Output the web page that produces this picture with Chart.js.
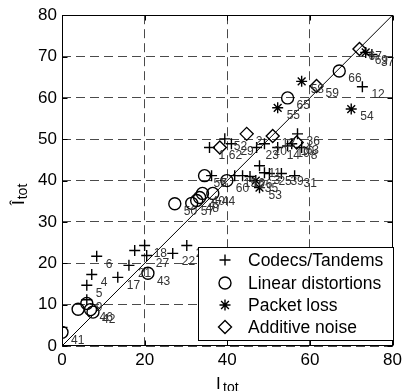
<!DOCTYPE html>
<html><head><meta charset="utf-8">
<script src="https://cdn.jsdelivr.net/npm/chart.js@4/dist/chart.umd.min.js"></script>
<style>html,body{margin:0;padding:0;background:#fff;}</style>
</head><body>
<canvas id="c" width="406" height="391"></canvas>
<script>
// ---- data ----
const seriesNames = ["Codecs/Tandems", "Linear distortions", "Packet loss", "Additive noise"];
const xTicks = [0, 20, 40, 60, 80];
const yTicks = [0, 10, 20, 30, 40, 50, 60, 70, 80];

const codecX = [0, 6.0, 6.0, 7.2, 8.4, 13.5, 16.2, 17.6, 20.0, 20.5, 26.8, 30.2,
  35.7, 39.4, 41.0, 47.1, 49.0, 52.2, 54.6, 55.6, 57.0, 58.0,
  36.2, 41.8, 43.7, 45.5, 47.8, 49.0, 50.2, 53.1, 56.3,
  72.7, 75.0];
const codecY = [4.5, 11.2, 14.7, 17.3, 21.7, 16.6, 19.5, 23.1, 24.3, 21.9, 22.4, 24.3,
  48.0, 50.1, 48.9, 48.0, 48.9, 48.0, 48.4, 48.9, 51.3, 48.0,
  41.2, 41.2, 41.2, 41.0, 43.6, 41.9, 41.7, 41.7, 41.2,
  62.7, 70.5];
const codecLabels = ["", "9", "5", "4", "6", "17", "21", "", "18", "27", "22", "24",
  "1", "52", "29", "23", "20", "14", "19", "10", "36", "8",
  "7", "15", "16", "26", "11", "3", "25", "39", "31",
  "12", "37"];

const linearX = [0, 3.9, 6.0, 6.9, 7.5, 20.8, 27.3, 31.4, 32.6, 33.3, 34.0, 36.5, 34.5, 39.9, 54.6, 67.1];
const linearY = [3.3, 8.9, 10.3, 8.8, 8.2, 17.6, 34.4, 34.5, 35.2, 35.9, 36.9, 36.9, 41.2, 40.0, 60.0, 66.5];
const linearLabels = ["41", "", "", "46", "42", "43", "50", "57", "48", "47", "40", "44", "56", "60", "65", "66"];

const packetX = [46.9, 47.8, 52.2, 58.0, 70.0, 73.5];
const packetY = [40.0, 38.3, 57.6, 64.0, 57.3, 71.0];
const packetLabels = ["35", "53", "55", "58", "54", "69"];

const noiseX = [38.2, 44.7, 51.0, 56.8, 61.6, 72.0];
const noiseY = [48.0, 51.3, 50.8, 49.2, 62.9, 71.8];
const noiseLabels = ["62", "2", "13", "63", "59", "67"];

const diagX = [0, 80];
const diagY = [0, 80];

// ---- build ----
const FONT = "'Liberation Sans', Arial, sans-serif";
Chart.defaults.font.family = FONT;
Chart.defaults.color = '#000';

function pts(xs, ys) { return xs.map((x, i) => ({x: x, y: ys[i]})); }

const styles = ['cross', 'circle', 'star', 'rectRot'];
const radii = [5.5, 6, 5.5, 6.5];
const allLabels = [codecLabels, linearLabels, packetLabels, noiseLabels];

const datasets = [
  {label: seriesNames[0], data: pts(codecX, codecY)},
  {label: seriesNames[1], data: pts(linearX, linearY)},
  {label: seriesNames[2], data: pts(packetX, packetY)},
  {label: seriesNames[3], data: pts(noiseX, noiseY)}
].map((d, i) => Object.assign(d, {
  pointStyle: styles[i], pointRadius: radii[i], pointHoverRadius: radii[i],
  borderColor: '#000', backgroundColor: 'rgba(0,0,0,0)', pointBorderWidth: 1.4,
  showLine: false
}));
datasets.push({label: 'diag', data: pts(diagX, diagY), showLine: true, borderColor: '#000',
  borderWidth: 1, pointRadius: 0, fill: false});

const labelPlugin = {
  id: 'pointLabels',
  afterDatasetsDraw(chart) {
    const ctx = chart.ctx;
    ctx.save();
    ctx.font = '12px ' + FONT;
    ctx.fillStyle = '#333';
    ctx.textAlign = 'left';
    ctx.textBaseline = 'middle';
    allLabels.forEach((labs, di) => {
      const meta = chart.getDatasetMeta(di);
      meta.data.forEach((el, j) => {
        if (labs[j]) ctx.fillText(labs[j], el.x + 9, el.y + 8);
      });
    });
    ctx.restore();
  }
};

const framePlugin = {
  id: 'frame',
  afterDraw(chart) {
    const ctx = chart.ctx;
    const a = chart.chartArea;
    const xs = chart.scales.x, ys = chart.scales.y;
    const L = Math.round(a.left) + 0.5, R = Math.round(a.right) - 0.5;
    const T = Math.round(a.top) + 0.5, B = Math.round(a.bottom) - 0.5;
    ctx.save();
    ctx.strokeStyle = '#000';
    ctx.lineWidth = 1;
    ctx.beginPath();
    const tl = 5;
    xTicks.forEach(v => {
      const px = Math.round(xs.getPixelForValue(v)) + 0.5;
      ctx.moveTo(px, B); ctx.lineTo(px, B - tl);
      ctx.moveTo(px, T); ctx.lineTo(px, T + tl);
    });
    yTicks.forEach(v => {
      const py = Math.round(ys.getPixelForValue(v)) + 0.5;
      ctx.moveTo(L, py); ctx.lineTo(L + tl, py);
      ctx.moveTo(R, py); ctx.lineTo(R - tl, py);
    });
    ctx.stroke();
    ctx.strokeRect(L, T, R - L, B - T);

    // legend
    const lx = 198.5, ly = 247.5, lw = 195, lh = 93;
    ctx.fillStyle = '#fff';
    ctx.fillRect(lx, ly, lw, lh);
    ctx.strokeRect(lx, ly, lw, lh);
    const rows = [260, 283, 305, 327];
    ctx.font = '17.5px ' + FONT;
    ctx.textAlign = 'left';
    ctx.textBaseline = 'middle';
    seriesNames.forEach((n, i) => {
      ctx.strokeStyle = '#000';
      ctx.fillStyle = 'rgba(0,0,0,0)';
      ctx.lineWidth = 1.4;
      Chart.helpers.drawPoint(ctx, {pointStyle: styles[i], radius: radii[i], borderWidth: 1.4, rotation: 0}, 225, rows[i]);
      ctx.fillStyle = '#000';
      ctx.fillText(n, 248, rows[i] + 1);
    });

    // axis titles
    ctx.fillStyle = '#000';
    ctx.textBaseline = 'alphabetic';
    ctx.textAlign = 'left';
    ctx.font = '17px ' + FONT;
    ctx.fillText('I', 216, 389);
    ctx.font = '14px ' + FONT;
    ctx.fillText('tot', 223, 392);

    ctx.save();
    ctx.translate(24, 205);
    ctx.rotate(-Math.PI / 2);
    ctx.font = '17px ' + FONT;
    ctx.fillText('\u00CE', 0, 0);
    const w = ctx.measureText('\u00CE').width;
    ctx.font = '14px ' + FONT;
    ctx.fillText('tot', w + 1, 3);
    ctx.restore();
    ctx.restore();
  }
};

new Chart(document.getElementById('c'), {
  type: 'scatter',
  data: {datasets: datasets},
  options: {
    responsive: false,
    animation: false,
    layout: {padding: {top: 14, right: 13, left: 0, bottom: 0}},
    plugins: {legend: {display: false}, tooltip: {enabled: false}},
    scales: {
      x: {
        type: 'linear', min: 0, max: 80,
        afterFit: s => { s.height = 45; },
        afterBuildTicks: s => { s.ticks = xTicks.map(v => ({value: v})); },
        ticks: {font: {size: 17}, padding: 4, color: '#000', maxRotation: 0},
        grid: {color: '#4a4a4a', lineWidth: 1, drawTicks: false},
        border: {display: false, dash: [9, 5]}
      },
      y: {
        type: 'linear', min: 0, max: 80,
        afterFit: s => { s.width = 62; },
        afterBuildTicks: s => { s.ticks = yTicks.map(v => ({value: v})); },
        ticks: {font: {size: 17}, padding: 5, color: '#000'},
        grid: {color: '#4a4a4a', lineWidth: 1, drawTicks: false},
        border: {display: false, dash: [9, 5]}
      }
    }
  },
  plugins: [labelPlugin, framePlugin]
});
</script>
</body></html>
